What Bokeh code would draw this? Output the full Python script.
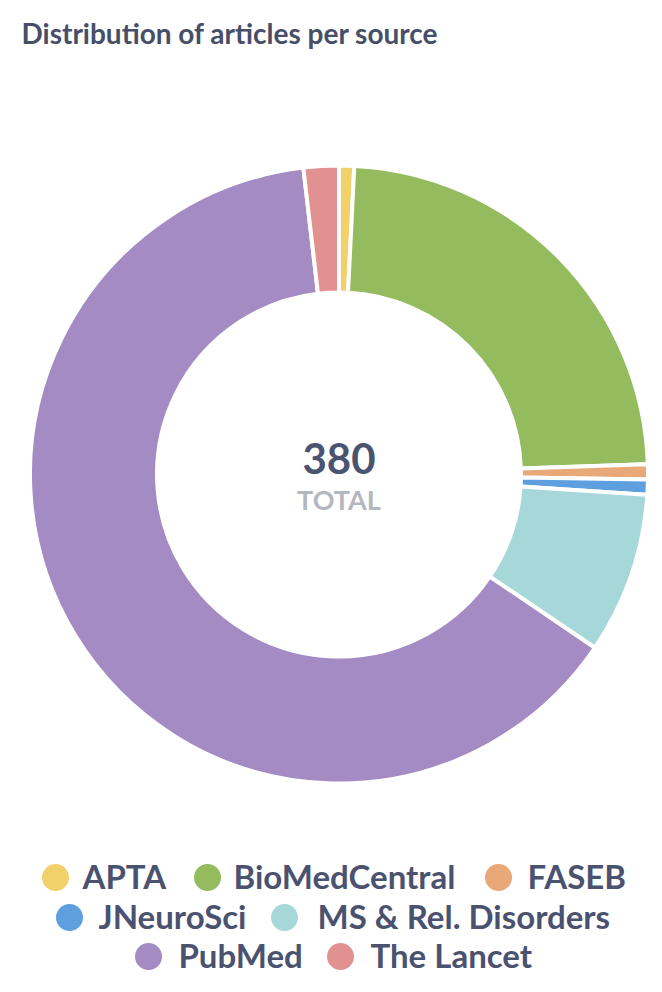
import math
from bokeh.plotting import figure
from bokeh.models import Range1d, ColumnDataSource
from bokeh.core.properties import value
from bokeh.embed import file_html
from bokeh.resources import INLINE

# ---- data ----
sources = ["APTA", "BioMedCentral", "FASEB", "JNeuroSci",
           "MS & Rel. Disorders", "PubMed", "The Lancet"]
counts = [3, 90, 3, 3, 32, 242, 7]
colors = ["#F2D16B", "#94BB5E", "#E9A878", "#5E9FE0",
          "#A6D8D9", "#A48BC4", "#E29191"]
chart_title = "Distribution of articles per source"
center_caption = "TOTAL"

# ---- layout (screen pixels, top-left origin) ----
W, H = 646, 976
def px(x):
    return x
def py(y):
    return H - y
def base(y, size):
    # compensate for where the svg text baseline lands
    return py(y - 0.4 * size)

FONT = value("Lato")
TEXT_COLOR = "#4A5270"

p = figure(width=W, height=H, output_backend="svg", toolbar_location=None,
           x_range=Range1d(0, W), y_range=Range1d(0, H), min_border=0,
           tools="")
p.axis.visible = False
p.grid.visible = False
p.outline_line_color = None
p.background_fill_color = "white"
p.border_fill_color = "white"

total = sum(counts)
starts, ends = [], []
acc = 0
for c in counts:
    starts.append(math.pi / 2 - 2 * math.pi * acc / total)
    acc += c
    ends.append(math.pi / 2 - 2 * math.pi * acc / total)

cx, cy = px(338.5), py(474)
src = ColumnDataSource(dict(name=sources, count=counts, color=colors,
                            start=starts, end=ends))
p.annular_wedge(x=cx, y=cy, inner_radius=182, outer_radius=309,
                start_angle="start", end_angle="end", direction="clock",
                fill_color="color", line_color="white", line_width=4,
                source=src)

# title
TS = 28
p.text(x=[px(21)], y=[base(44, TS)], text=[chart_title], text_font=FONT,
       text_font_style="bold", text_font_size=f"{TS}px", text_color="#474E68",
       text_baseline="alphabetic", text_align="left")

# center total
NS = 42
p.text(x=[cx], y=[base(475, NS)], text=[str(total)], text_font=FONT,
       text_font_style="bold", text_font_size=f"{NS}px", text_color="#4A5470",
       text_baseline="alphabetic", text_align="center")
CS = 27
p.text(x=[cx], y=[base(510, CS)], text=[center_caption], text_font=FONT,
       text_font_style="bold", text_font_size=f"{CS}px", text_color="#B4B7BE",
       text_baseline="alphabetic", text_align="center")

# legend (custom, centered rows)
LS = 33
dot_x = [55, 207, 498, 69, 284, 148, 340]
text_x = [82, 233, 527, 98, 317, 178, 370]
rows = [0, 0, 0, 1, 1, 2, 2]
row_dot_y = [877, 917, 956]
row_base_y = [889, 929, 968]

leg = ColumnDataSource(dict(
    dx=[px(v) for v in dot_x],
    dy=[py(row_dot_y[r]) for r in rows],
    tx=[px(v) for v in text_x],
    ty=[base(row_base_y[r], LS) for r in rows],
    name=sources, color=colors))
p.scatter(x="dx", y="dy", size=27, marker="circle", fill_color="color",
          line_color=None, source=leg)
p.text(x="tx", y="ty", text="name", text_font=FONT, text_font_style="bold",
       text_font_size=f"{LS}px", text_color=TEXT_COLOR,
       text_baseline="alphabetic", text_align="left", source=leg)

open("out.html", "w").write(file_html(p, INLINE))
